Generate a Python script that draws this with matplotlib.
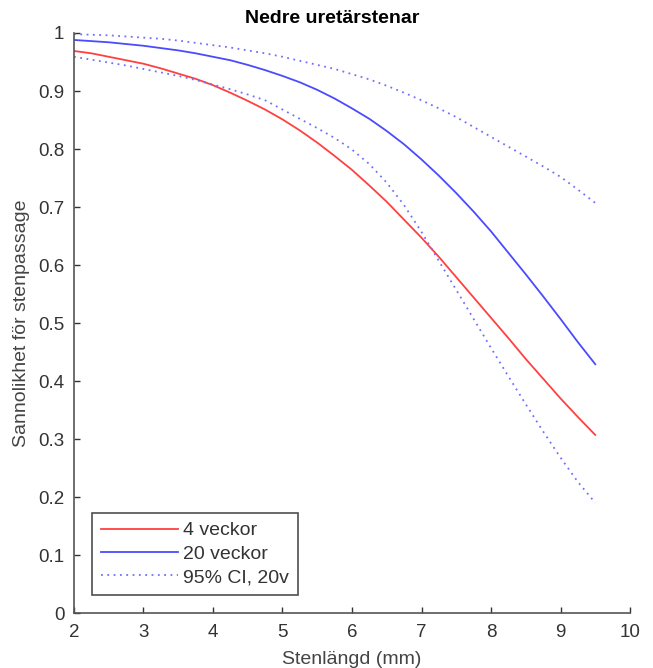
import matplotlib
matplotlib.use("Agg")
import matplotlib.pyplot as plt

plt.rcParams['font.family'] = ['Liberation Sans', 'DejaVu Sans']

x = [2.00, 2.25, 2.50, 2.75, 3.00, 3.25, 3.50, 3.75, 4.00, 4.25, 4.50, 4.75,
     5.00, 5.25, 5.50, 5.75, 6.00, 6.25, 6.50, 6.75, 7.00, 7.25, 7.50, 7.75,
     8.00, 8.25, 8.50, 8.75, 9.00, 9.25, 9.50]

weeks4 = [0.969, 0.965, 0.959, 0.953, 0.947, 0.939, 0.930, 0.921, 0.910, 0.897,
          0.883, 0.868, 0.851, 0.832, 0.811, 0.788, 0.764, 0.737, 0.709, 0.678,
          0.647, 0.614, 0.579, 0.544, 0.509, 0.474, 0.438, 0.404, 0.370, 0.338,
          0.307]

weeks20 = [0.988, 0.986, 0.984, 0.981, 0.978, 0.974, 0.970, 0.965, 0.959, 0.953,
           0.945, 0.936, 0.926, 0.915, 0.902, 0.887, 0.870, 0.852, 0.831, 0.808,
           0.782, 0.754, 0.724, 0.692, 0.658, 0.621, 0.584, 0.546, 0.507, 0.467,
           0.429]

ci_upper = [0.998, 0.997, 0.996, 0.994, 0.992, 0.990, 0.987, 0.983, 0.979, 0.975,
            0.970, 0.965, 0.959, 0.952, 0.945, 0.938, 0.929, 0.920, 0.909, 0.897,
            0.884, 0.870, 0.855, 0.838, 0.821, 0.804, 0.787, 0.770, 0.752, 0.730,
            0.707]

ci_lower = [0.959, 0.954, 0.949, 0.944, 0.938, 0.932, 0.926, 0.919, 0.911, 0.903,
            0.894, 0.884, 0.868, 0.852, 0.836, 0.819, 0.799, 0.774, 0.742, 0.703,
            0.657, 0.607, 0.557, 0.507, 0.457, 0.408, 0.360, 0.313, 0.268, 0.226,
            0.190]

xticks = [2, 3, 4, 5, 6, 7, 8, 9, 10]
yticks = [0, 0.1, 0.2, 0.3, 0.4, 0.5, 0.6, 0.7, 0.8, 0.9, 1]
ytick_labels = ["0", "0.1", "0.2", "0.3", "0.4", "0.5", "0.6", "0.7", "0.8", "0.9", "1"]

fig = plt.figure(figsize=(6.53, 6.68), dpi=100)
ax = fig.add_axes([0.1133, 0.0823, 0.8515, 0.8683])

ax.plot(x, weeks4, color='#ff4040', lw=1.3, label='4 veckor')
ax.plot(x, weeks20, color='#4a4aff', lw=1.3, label='20 veckor')
ax.plot(x, ci_upper, color='#6f6fff', lw=1.3, ls=(0, (1, 2.5)), label='95% CI, 20v')
ax.plot(x, ci_lower, color='#6f6fff', lw=1.3, ls=(0, (1, 2.5)))

ax.set_xlim(2, 10)
ax.set_ylim(0, 1)
ax.set_xticks(xticks)
ax.set_yticks(yticks)
ax.set_yticklabels(ytick_labels)

for s in ['top', 'right']:
    ax.spines[s].set_visible(False)
for s in ['left', 'bottom']:
    ax.spines[s].set_color('#555555')
    ax.spines[s].set_linewidth(1.2)
ax.tick_params(direction='in', length=4, width=1, color='#333333',
               labelcolor='#333333', labelsize=13.5)
ax.tick_params(axis='x', pad=8)
ax.tick_params(axis='y', pad=7)

ax.set_title('Nedre uretärstenar', fontsize=14, fontweight='bold', pad=7, x=0.465)
ax.set_xlabel('Stenlängd (mm)', fontsize=14, color='#444444', labelpad=7)
ax.set_ylabel('Sannolikhet för stenpassage', fontsize=14, color='#444444', labelpad=6)

leg = ax.legend(loc='lower left', bbox_to_anchor=(0.032, 0.031), fontsize=14,
                frameon=True, fancybox=False, handlelength=4.0, handletextpad=0.25,
                borderpad=0.45, labelspacing=0.3, borderaxespad=0)
leg.get_frame().set_edgecolor('#222222')
leg.get_frame().set_linewidth(1.2)
for t in leg.get_texts():
    t.set_color('#333333')

fig.savefig('out.png', dpi=100)
